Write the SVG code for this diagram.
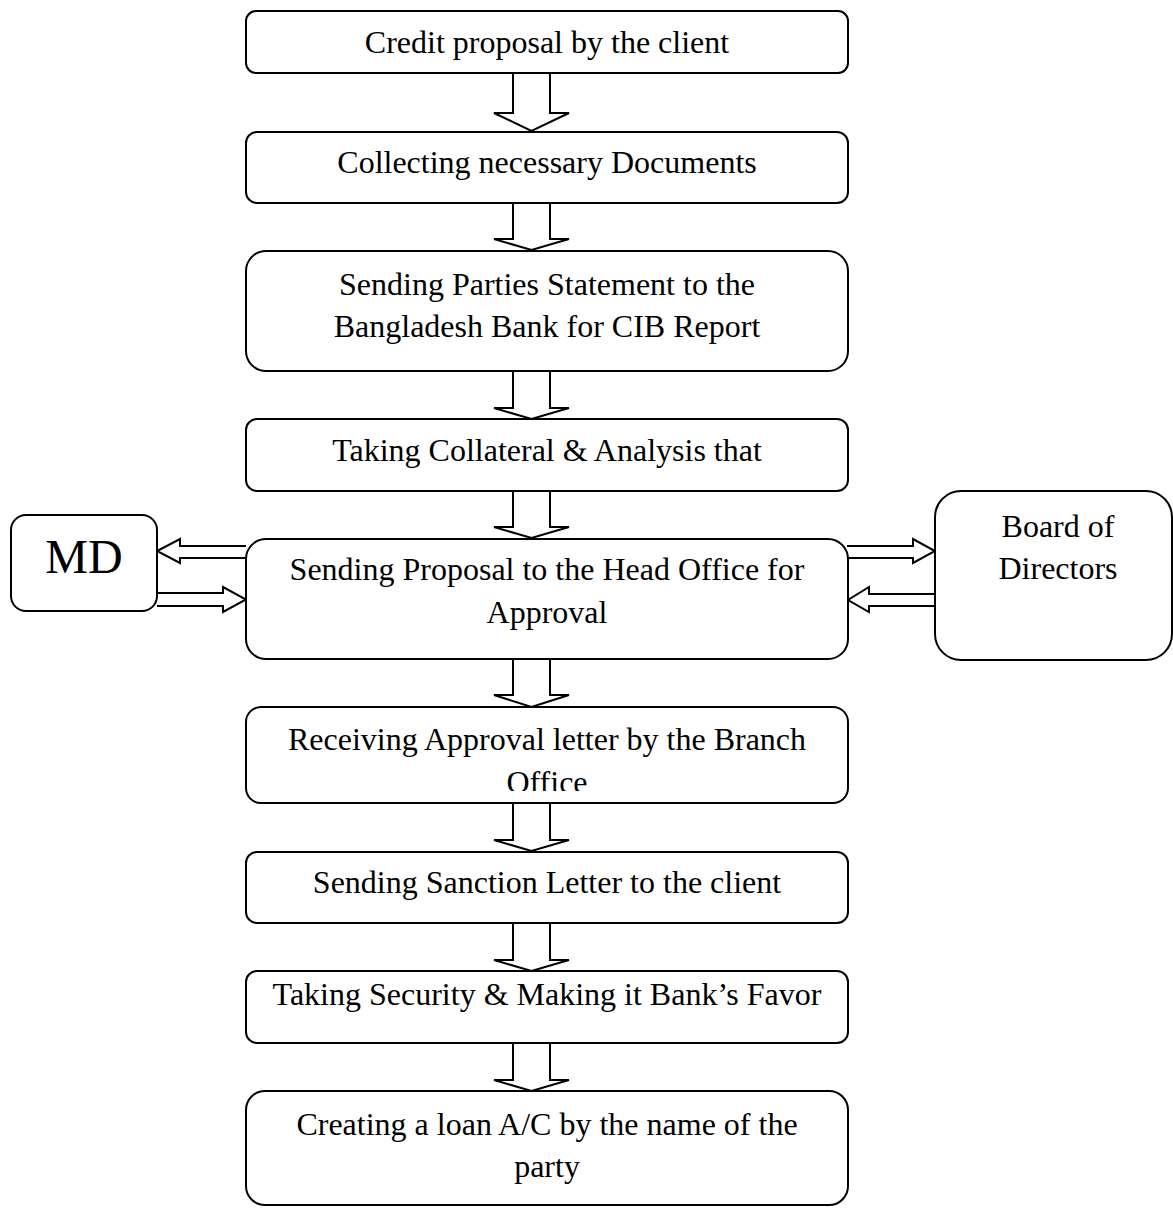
<svg xmlns="http://www.w3.org/2000/svg" width="1173" height="1208" viewBox="0 0 1173 1208">
<style>
.box{fill:#fff;stroke:#000;stroke-width:2}
.arr{fill:#fff;stroke:#000;stroke-width:2;stroke-linejoin:miter}
text{font-family:"Liberation Serif","Times New Roman",serif;font-size:32px;fill:#000;text-anchor:middle}
.big{font-size:48px}
</style>
<defs>
<clipPath id="clip6"><rect x="246" y="707" width="602" height="84"/></clipPath>
</defs>
<rect width="1173" height="1208" fill="#fff"/>
<g id="connectors">
<path class="arr" d="M513,73 V113 H494 L531.5,131 L569,113 H550 V73"/>
<path class="arr" d="M513,203 V239 H494 L531.5,250 L569,239 H550 V203"/>
<path class="arr" d="M513,371 V408 H494 L531.5,419 L569,408 H550 V371"/>
<path class="arr" d="M513,491 V527 H494 L531.5,538 L569,527 H550 V491"/>
<path class="arr" d="M513,659 V695 H494 L531.5,707 L569,695 H550 V659"/>
<path class="arr" d="M513,803 V840 H494 L531.5,851 L569,840 H550 V803"/>
<path class="arr" d="M513,923 V960 H494 L531.5,971 L569,960 H550 V923"/>
<path class="arr" d="M513,1043 V1080 H494 L531.5,1091 L569,1080 H550 V1043"/>
<path class="arr" d="M246,546 H180 V539 L157,551 L180,563 V558 H246"/>
<path class="arr" d="M157,593 H223 V587 L246,599.5 L223,612 V606 H157"/>
<path class="arr" d="M847,546 H913 V539 L935,551 L913,563 V558 H847"/>
<path class="arr" d="M935,594 H869 V587 L848,600 L869,612 V606 H935"/>
</g>
<g id="n1"><rect class="box" x="246" y="11" width="602" height="62" rx="10"/><text x="547" y="53">Credit proposal by the client</text></g>
<g id="n2"><rect class="box" x="246" y="132" width="602" height="71" rx="11"/><text x="547" y="173">Collecting necessary Documents</text></g>
<g id="n3"><rect class="box" x="246" y="251" width="602" height="120" rx="20"/><text x="547" y="295">Sending Parties Statement to the</text><text x="547" y="337">Bangladesh Bank for CIB Report</text></g>
<g id="n4"><rect class="box" x="246" y="419" width="602" height="72" rx="11"/><text x="547" y="461">Taking Collateral &amp; Analysis that</text></g>
<g id="n5"><rect class="box" x="246" y="539" width="602" height="120" rx="20"/><text x="547" y="580">Sending Proposal to the Head Office for</text><text x="547" y="623">Approval</text></g>
<g id="md"><rect class="box" x="11" y="515" width="146" height="96" rx="15"/><text class="big" x="84" y="573">MD</text></g>
<g id="board"><rect class="box" x="935" y="491" width="237" height="169" rx="26"/><text x="1058" y="537">Board of</text><text x="1058" y="579">Directors</text></g>
<g id="n6"><rect class="box" x="246" y="707" width="602" height="96" rx="15"/><g clip-path="url(#clip6)"><text x="547" y="750">Receiving Approval letter by the Branch</text><text x="547" y="793">Office</text></g></g>
<g id="n7"><rect class="box" x="246" y="852" width="602" height="71" rx="11"/><text x="547" y="893">Sending Sanction Letter to the client</text></g>
<g id="n8"><rect class="box" x="246" y="971" width="602" height="72" rx="11"/><text x="547" y="1005">Taking Security &amp; Making it Bank’s Favor</text></g>
<g id="n9"><rect class="box" x="246" y="1091" width="602" height="114" rx="19"/><text x="547" y="1135">Creating a loan A/C by the name of the</text><text x="547" y="1177">party</text></g>
</svg>
